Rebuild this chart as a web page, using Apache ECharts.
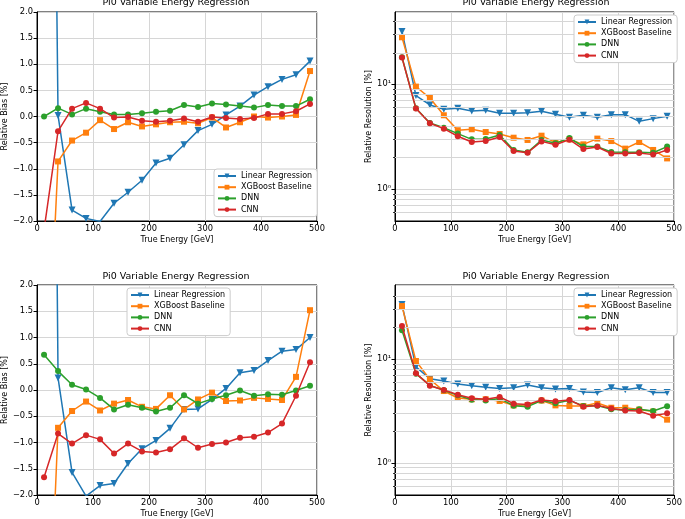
<!DOCTYPE html>
<html><head><meta charset="utf-8">
<script src="https://cdn.jsdelivr.net/npm/echarts@6/dist/echarts.min.js"></script>
<style>html,body{margin:0;padding:0;background:#fff}#c{width:685px;height:519px}</style>
</head><body><div id="c"></div>
<script>
const energy = [12.5, 37.5, 62.5, 87.5, 112.5, 137.5, 162.5, 187.5, 212.5, 237.5, 262.5, 287.5, 312.5, 337.5, 362.5, 387.5, 412.5, 437.5, 462.5, 487.5];
const seriesNames = ['Linear Regression', 'XGBoost Baseline', 'DNN', 'CNN'];
const xTicks = [0, 100, 200, 300, 400, 500];
const biasTicks = [-2.0, -1.5, -1.0, -0.5, 0.0, 0.5, 1.0, 1.5, 2.0];
const resMinorGrid = [0.6, 0.7, 0.8, 0.9, 2, 3, 4, 5, 6, 7, 8, 9, 20, 30, 40];

const biasTopLinear = [24, 0.02, -1.79, -1.95, -2.01, -1.66, -1.45, -1.22, -0.89, -0.80, -0.54, -0.27, -0.15, 0.03, 0.20, 0.41, 0.57, 0.71, 0.80, 1.06];
const biasTopXgb = [-6.5, -0.86, -0.46, -0.31, -0.07, -0.24, -0.11, -0.19, -0.15, -0.11, -0.10, -0.13, -0.02, -0.21, -0.11, 0.00, -0.02, 0.00, 0.03, 0.87];
const biasTopDnn = [0.00, 0.16, 0.04, 0.15, 0.09, 0.04, 0.04, 0.06, 0.09, 0.11, 0.22, 0.18, 0.25, 0.23, 0.20, 0.17, 0.22, 0.20, 0.20, 0.33];
const biasTopCnn = [-2.17, -0.28, 0.15, 0.26, 0.15, -0.02, -0.01, -0.08, -0.10, -0.08, -0.04, -0.10, -0.01, -0.03, -0.05, -0.03, 0.05, 0.05, 0.10, 0.24];

const resTopLinear = [31.9, 7.8, 6.35, 5.77, 5.9, 5.56, 5.64, 5.28, 5.28, 5.36, 5.52, 5.17, 4.84, 5.06, 4.84, 5.13, 5.13, 4.43, 4.70, 4.95];
const resTopXgb = [28.1, 9.5, 7.4, 5.06, 3.64, 3.72, 3.5, 3.35, 3.09, 2.94, 3.23, 2.77, 2.98, 2.67, 3.03, 2.87, 2.43, 2.81, 2.36, 1.96];
const resTopDnn = [18.1, 5.9, 4.27, 3.85, 3.38, 2.98, 3.0, 3.28, 2.36, 2.24, 2.94, 2.73, 3.07, 2.54, 2.54, 2.26, 2.24, 2.24, 2.22, 2.54];
const resTopCnn = [18.0, 5.86, 4.24, 3.77, 3.19, 2.81, 2.87, 3.14, 2.31, 2.22, 2.85, 2.65, 2.96, 2.41, 2.52, 2.18, 2.18, 2.21, 2.13, 2.36];

const biasBotLinear = [30, 0.23, -1.57, -2.02, -1.82, -1.78, -1.40, -1.12, -0.96, -0.73, -0.37, -0.36, -0.18, 0.03, 0.33, 0.37, 0.56, 0.74, 0.77, 1.00];
const biasBotXgb = [-7.1, -0.72, -0.40, -0.22, -0.39, -0.26, -0.19, -0.32, -0.36, -0.10, -0.37, -0.18, -0.05, -0.21, -0.20, -0.15, -0.17, -0.19, 0.25, 1.52];
const biasBotDnn = [0.67, 0.36, 0.10, 0.01, -0.15, -0.37, -0.28, -0.34, -0.41, -0.34, -0.10, -0.26, -0.17, -0.10, -0.01, -0.11, -0.08, -0.09, -0.01, 0.08];
const biasBotCnn = [-1.66, -0.83, -1.02, -0.86, -0.94, -1.21, -1.02, -1.17, -1.19, -1.13, -0.92, -1.10, -1.03, -1.00, -0.91, -0.89, -0.81, -0.64, -0.11, 0.53];

const resBotLinear = [33.5, 8.4, 6.47, 6.14, 5.75, 5.54, 5.34, 5.19, 5.3, 5.62, 5.3, 5.15, 5.19, 4.82, 4.75, 5.3, 5.07, 5.3, 4.75, 4.75];
const resBotXgb = [32.3, 9.57, 6.37, 4.92, 4.22, 4.1, 4.1, 3.95, 3.58, 3.61, 3.98, 3.58, 3.53, 3.53, 3.77, 3.4, 3.4, 3.26, 3.12, 2.61];
const resBotDnn = [18.9, 7.23, 5.58, 5.0, 4.47, 4.06, 3.98, 4.16, 3.56, 3.48, 3.98, 3.75, 4.0, 3.53, 3.56, 3.28, 3.23, 3.28, 3.16, 3.51];
const resBotCnn = [20.8, 7.28, 5.54, 5.03, 4.54, 4.19, 4.1, 4.31, 3.72, 3.66, 4.03, 3.92, 4.03, 3.48, 3.58, 3.35, 3.19, 3.16, 2.85, 3.0];

const FONT = 'DejaVu Sans';
const TICK_FS = 8.3;
const LABEL_FS = 8;
const colors = ['#1f77b4', '#ff7f0e', '#2ca02c', '#d62728'];
const symbols = ['triangle', 'rect', 'circle', 'circle'];
const symRot = [180, 0, 0, 0];
const symSize = [7, 6, 6, 6];
const gridColor = '#d6d6d6';

const grids = [
  {left: 35, top: 12, width: 282, height: 209, show: true, borderColor: '#000', borderWidth: 1},
  {left: 395, top: 12, width: 282, height: 209, show: true, borderColor: '#000', borderWidth: 1},
  {left: 35, top: 285, width: 282, height: 210, show: true, borderColor: '#000', borderWidth: 1},
  {left: 395, top: 285, width: 282, height: 210, show: true, borderColor: '#000', borderWidth: 1}
];

function xAxisFor(i) {
  return {
    type: 'value', gridIndex: i, min: xTicks[0], max: xTicks[xTicks.length - 1], interval: 100,
    name: 'True Energy [GeV]', nameLocation: 'middle', nameGap: 15,
    nameTextStyle: {fontFamily: FONT, fontSize: LABEL_FS, color: '#000'},
    axisLine: {show: true, onZero: false, lineStyle: {color: '#000', width: 1}},
    axisTick: {show: true, inside: false, length: 3.5, lineStyle: {color: '#000'}},
    axisLabel: {fontFamily: FONT, fontSize: TICK_FS, color: '#000', margin: 4},
    splitLine: {show: true, lineStyle: {color: gridColor, width: 1}}
  };
}
function biasY(i) {
  return {
    type: 'value', gridIndex: i, min: biasTicks[0], max: biasTicks[biasTicks.length - 1], interval: 0.5,
    name: 'Relative Bias [%]', nameLocation: 'middle', nameGap: 24.5,
    nameTextStyle: {fontFamily: FONT, fontSize: LABEL_FS, color: '#000'},
    axisLine: {show: true, onZero: false, lineStyle: {color: '#000', width: 1}},
    axisTick: {show: true, inside: false, length: 3.5, lineStyle: {color: '#000'}},
    axisLabel: {fontFamily: FONT, fontSize: TICK_FS, color: '#000', margin: 4,
      formatter: v => (v < 0 ? '\u2212' : '') + Math.abs(v).toFixed(1)},
    splitLine: {show: true, lineStyle: {color: gridColor, width: 1}}
  };
}
function resY(i, mn, mx) {
  return {
    type: 'log', logBase: 10, gridIndex: i, min: mn, max: mx,
    name: 'Relative Resolution [%]', nameLocation: 'middle', nameGap: 21,
    nameTextStyle: {fontFamily: FONT, fontSize: LABEL_FS, color: '#000'},
    axisLine: {show: true, onZero: false, lineStyle: {color: '#000', width: 1}},
    axisTick: {show: true, inside: false, length: 3.5, lineStyle: {color: '#000'}},
    axisLabel: {fontFamily: FONT, fontSize: TICK_FS, color: '#000', margin: 4, showMinLabel: false, showMaxLabel: false,
      formatter: v => {
        const l = Math.log10(v);
        if (Math.abs(l - Math.round(l)) > 1e-6) return '';
        const sup = {'0': '\u2070', '1': '\u00b9', '2': '\u00b2', '-1': '\u207b\u00b9'};
        return '10' + (sup[String(Math.round(l))] || '');
      }},
    splitLine: {show: true, lineStyle: {color: gridColor, width: 1}}
  };
}
function resMinorY(i, mn, mx) {
  return {
    type: 'log', logBase: 10, gridIndex: i, min: mn, max: mx, position: 'left',
    axisLine: {show: false},
    axisTick: {show: true, inside: false, length: 2, lineStyle: {color: '#000', width: 0.8}, customValues: resMinorGrid},
    axisLabel: {show: false},
    splitLine: {show: false}
  };
}

const panels = [
  [biasTopLinear, biasTopXgb, biasTopDnn, biasTopCnn],
  [resTopLinear, resTopXgb, resTopDnn, resTopCnn],
  [biasBotLinear, biasBotXgb, biasBotDnn, biasBotCnn],
  [resBotLinear, resBotXgb, resBotDnn, resBotCnn]
];

const series = [];
[1, 3].forEach(i => {
  series.push({
    name: '_minor' + i, type: 'line', xAxisIndex: i, yAxisIndex: i, data: [], z: 1, silent: true,
    markLine: {silent: true, symbol: 'none', label: {show: false}, animation: false,
      lineStyle: {color: gridColor, width: 1, type: 'solid'},
      data: resMinorGrid.map(v => ({yAxis: v}))}
  });
});
panels.forEach((arrs, pi) => {
  arrs.forEach((arr, si) => {
    series.push({
      name: seriesNames[si], type: 'line', xAxisIndex: pi, yAxisIndex: pi,
      data: energy.map((e, k) => [e, arr[k]]),
      color: colors[si], symbol: symbols[si], symbolRotate: symRot[si], symbolSize: symSize[si],
      showAllSymbol: true, clip: true, animation: false, z: 2 + si,
      lineStyle: {width: 1.5, color: colors[si]},
      itemStyle: {color: colors[si]}
    });
  });
});

function legendAt(left, top) {
  return {
    data: seriesNames, orient: 'vertical', left: left, top: top, z: 50,
    itemWidth: 18, itemHeight: 6, itemGap: 3.2, padding: [3, 5, 3, 3],
    backgroundColor: '#fff', borderColor: '#cccccc', borderWidth: 1, borderRadius: 3,
    textStyle: {fontFamily: FONT, fontSize: LABEL_FS, color: '#000'},
    selectedMode: false
  };
}

const titleStyle = {fontFamily: FONT, fontSize: 9.5, fontWeight: 'normal', color: '#000'};
const option = {
  animation: false,
  title: [
    {text: 'Pi0 Variable Energy Regression', left: 176, top: -2, textAlign: 'center', textStyle: titleStyle, padding: 0},
    {text: 'Pi0 Variable Energy Regression', left: 536, top: -2, textAlign: 'center', textStyle: titleStyle, padding: 0},
    {text: 'Pi0 Variable Energy Regression', left: 176, top: 272, textAlign: 'center', textStyle: titleStyle, padding: 0},
    {text: 'Pi0 Variable Energy Regression', left: 536, top: 272, textAlign: 'center', textStyle: titleStyle, padding: 0}
  ],
  legend: [legendAt(214, 169), legendAt(574, 15), legendAt(127, 288), legendAt(574, 288)],
  grid: grids,
  xAxis: [xAxisFor(0), xAxisFor(1), xAxisFor(2), xAxisFor(3)],
  yAxis: [biasY(0), resY(1, 0.495, 49), biasY(2), resY(3, 0.492, 51.5),
          resMinorY(1, 0.495, 49), resMinorY(3, 0.492, 51.5)],
  series: series
};
const chart = echarts.init(document.getElementById('c'), null, {renderer: 'canvas'});
chart.setOption(option);
</script></body></html>
